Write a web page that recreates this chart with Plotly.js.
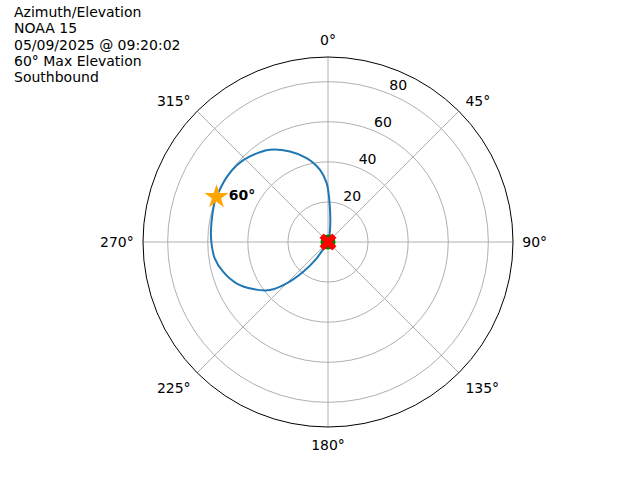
<!DOCTYPE html>
<html>
<head>
<meta charset="utf-8">
<script src="https://cdn.plot.ly/plotly-3.0.1.min.js"></script>
<style>html,body{margin:0;padding:0;background:#fff;}#chart{width:640px;height:480px;}</style>
</head>
<body>
<div id="chart"></div>
<script>
// Pass track: azimuth (deg) and elevation (deg, plotted as radius)
const azimuth = [10, 9.5, 1.8, 358.7, 353.7, 345.7, 337.2, 327.8, 317.6, 310.1, 302.8, 295.5, 290, 283.5, 276, 270, 261.8, 254.2, 245.7, 237.8, 230.4, 225, 219.8, 214.7, 214, 214];
const elevation = [0, 6.1, 21, 29.4, 36.2, 43.2, 49, 54.4, 57.8, 59.5, 60, 60, 60, 59.3, 58.7, 58.2, 57.1, 54.4, 50.1, 44.1, 37.6, 29.2, 19.3, 9.9, 3.9, 0];
const maxElevation = [60];
const maxAzimuth = [292];
const startAz = [azimuth[0]], startEl = [elevation[0]];
const endAz = [azimuth[azimuth.length - 1]], endEl = [elevation[elevation.length - 1]];
const thetaTicks = [0, 45, 90, 135, 180, 225, 270, 315];
const thetaLabels = thetaTicks.map(v => v + '°');
const rTicks = [20, 40, 60, 80];
const rLabels = rTicks.map(String);
const titleLines = ['Azimuth/Elevation', 'NOAA 15', '05/09/2025 @ 09:20:02', '60° Max Elevation', 'Southbound'];

const FONT = 'DejaVu Sans, sans-serif';
// plot square: 143..513 x, 57..427 y
const L = 143, T = 57, S = 370;
const px = x => (x - L) / S;
const py = y => (T + S - y) / S;

const traces = [
  {type: 'scatterpolar', mode: 'lines', r: elevation, theta: azimuth,
   line: {color: '#1f77b4', width: 2, shape: 'spline', smoothing: 0.8}, hoverinfo: 'skip'},
  {type: 'scatterpolar', mode: 'markers', r: startEl, theta: startAz,
   marker: {color: '#008000', size: 15, symbol: 'circle'}},
  {type: 'scatterpolar', mode: 'markers', r: endEl, theta: endAz,
   marker: {color: '#ff0000', size: 15, symbol: 'x'}},
  {type: 'scatterpolar', mode: 'markers+text', r: maxElevation, theta: maxAzimuth,
   text: maxElevation.map(v => '<b>' + v + '°</b>'), textposition: 'middle right',
   textfont: {family: FONT, size: 14, color: '#000'},
   marker: {color: '#ffa500', size: 18, symbol: 'star'}},
  {type: 'scatterpolar', mode: 'text', r: rTicks, theta: rTicks.map(() => 22.5),
   text: rLabels, textposition: 'top right',
   textfont: {family: FONT, size: 14, color: '#000'}, hoverinfo: 'skip'}
];

const annotations = titleLines.map((t, i) => ({
  text: t, xref: 'paper', yref: 'paper', x: px(12), y: py(12 + i * 16.25),
  xanchor: 'left', yanchor: 'middle', showarrow: false, align: 'left',
  font: {family: FONT, size: 14, color: '#000'}
}));

const layout = {
  width: 640, height: 480,
  margin: {l: L, r: 640 - L - S, t: T, b: 480 - T - S, pad: 0},
  paper_bgcolor: '#fff', plot_bgcolor: '#fff',
  showlegend: false,
  font: {family: FONT, size: 14, color: '#000'},
  polar: {
    domain: {x: [0, 1], y: [0, 1]},
    bgcolor: '#fff',
    radialaxis: {range: [0, 92.3], tickmode: 'array', tickvals: rTicks, showticklabels: false,
      ticks: '', showline: false, gridcolor: '#b0b0b0', gridwidth: 1, angle: 67.5},
    angularaxis: {rotation: 90, direction: 'clockwise', tickmode: 'array', tickvals: thetaTicks,
      ticktext: thetaLabels, ticks: 'outside', ticklen: 6, tickcolor: 'rgba(0,0,0,0)',
      showline: true, linecolor: '#000', linewidth: 1, gridcolor: '#b0b0b0', gridwidth: 1,
      tickfont: {family: FONT, size: 14, color: '#000'}}
  },
  annotations: annotations
};

Plotly.newPlot('chart', traces, layout, {staticPlot: true, displayModeBar: false});
</script>
</body>
</html>
